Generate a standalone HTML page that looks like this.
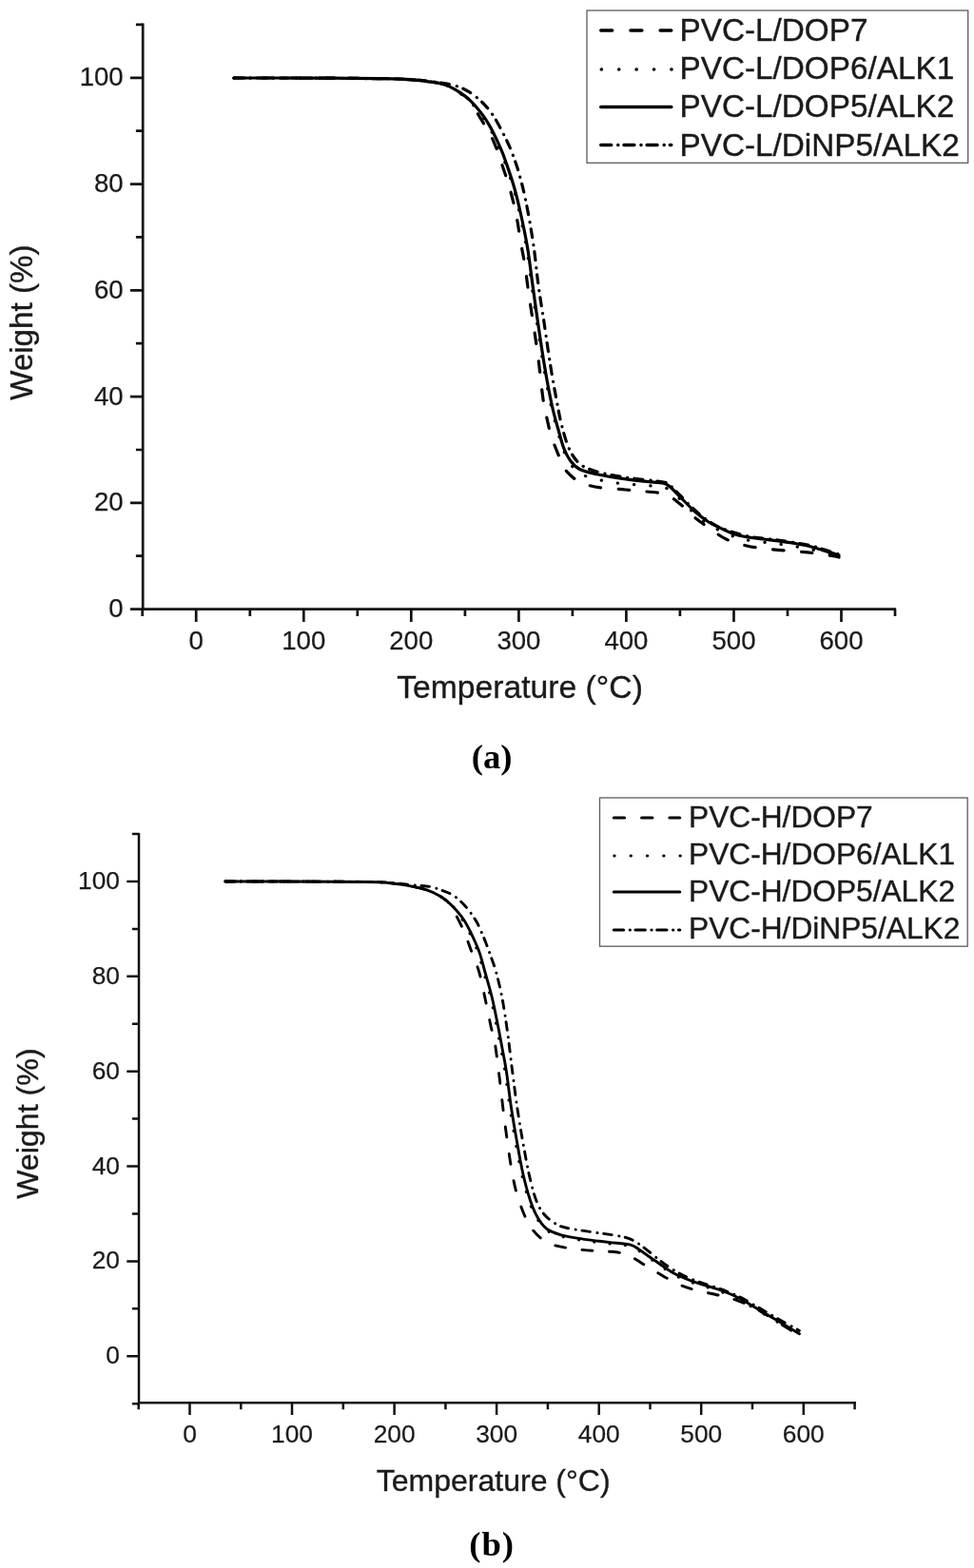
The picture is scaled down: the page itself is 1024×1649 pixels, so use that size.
<!DOCTYPE html>
<html lang="en"><head><meta charset="utf-8"><title>TGA curves</title>
<style>
html,body{margin:0;padding:0;background:#fff}
body{width:1024px;height:1649px;overflow:hidden}
svg{display:block;font-family:"Liberation Sans",Arial,sans-serif}
.cap{font-family:"Liberation Serif","DejaVu Serif",serif;font-weight:bold}
</style></head><body>
<svg width="1024" height="1649" viewBox="0 0 1024 1649">
<rect width="1024" height="1649" fill="#fff"/>
<!-- chart a -->
<g stroke="#111" stroke-width="2.7" fill="none" stroke-linecap="butt">
<path d="M150.2 24.6 V640.6 H942.0"/>
<path d="M150.2 640.6h-13.3M150.2 584.7h-7.3M150.2 528.8h-13.3M150.2 473.0h-7.3M150.2 417.1h-13.3M150.2 361.2h-7.3M150.2 305.3h-13.3M150.2 249.4h-7.3M150.2 193.6h-13.3M150.2 137.7h-7.3M150.2 81.8h-13.3M150.2 25.9h-7.3M149.7 640.6v7.3M206.2 640.6v13.3M262.8 640.6v7.3M319.3 640.6v13.3M375.8 640.6v7.3M432.3 640.6v13.3M488.9 640.6v7.3M545.4 640.6v13.3M601.9 640.6v7.3M658.4 640.6v13.3M714.9 640.6v7.3M771.5 640.6v13.3M828.0 640.6v7.3M884.5 640.6v13.3M941.0 640.6v7.3"/>
</g>
<g font-size="27.6" fill="#1a1a1a" stroke="#1a1a1a" stroke-width="0.25">
<text x="129.7" y="649.0" text-anchor="end">0</text>
<text x="129.7" y="537.2" text-anchor="end">20</text>
<text x="129.7" y="425.5" text-anchor="end">40</text>
<text x="129.7" y="313.7" text-anchor="end">60</text>
<text x="129.7" y="201.9" text-anchor="end">80</text>
<text x="129.7" y="90.2" text-anchor="end">100</text>
<text x="206.2" y="683.0" text-anchor="middle">0</text>
<text x="319.3" y="683.0" text-anchor="middle">100</text>
<text x="432.3" y="683.0" text-anchor="middle">200</text>
<text x="545.4" y="683.0" text-anchor="middle">300</text>
<text x="658.4" y="683.0" text-anchor="middle">400</text>
<text x="771.5" y="683.0" text-anchor="middle">500</text>
<text x="884.5" y="683.0" text-anchor="middle">600</text>
</g>
<g stroke="#000" stroke-width="3.2" fill="none" stroke-linejoin="round" stroke-linecap="round">
<path d="M246.0 82.0C255.0 82.0 282.7 82.0 300.0 82.0C317.3 82.0 333.3 82.1 350.0 82.2C366.7 82.3 388.3 82.6 400.0 82.7C411.7 82.8 413.7 82.8 420.0 83.1C426.3 83.4 431.7 83.8 437.6 84.3C443.5 84.8 450.3 85.7 455.2 86.4C460.1 87.1 463.4 87.6 466.9 88.8C470.4 89.9 473.0 91.5 476.0 93.2C479.0 94.9 482.0 96.9 485.0 99.2C488.0 101.5 491.1 103.8 494.2 106.8C497.3 109.8 500.5 113.7 503.4 117.4C506.3 121.1 509.1 124.9 511.6 129.0C514.1 133.1 516.3 137.3 518.6 142.0C520.9 146.7 523.5 152.7 525.4 157.0C527.3 161.3 527.5 161.7 529.8 168.0C532.1 174.3 536.2 185.5 539.0 195.0C541.8 204.5 544.1 214.2 546.5 225.0C548.9 235.8 551.4 247.5 553.5 260.0C555.6 272.5 557.1 286.2 559.0 300.0C560.9 313.8 562.9 328.3 565.0 342.5C567.1 356.7 569.2 371.2 571.5 385.0C573.8 398.8 576.6 413.8 579.0 425.0C581.4 436.2 583.8 444.2 586.0 452.0C588.2 459.8 589.8 466.2 592.0 472.0C594.2 477.8 596.2 482.8 599.0 487.0C601.8 491.2 605.5 494.5 609.0 497.0C612.5 499.5 614.0 500.2 620.0 502.0C626.0 503.8 636.7 506.2 645.0 507.5C653.3 508.8 661.7 509.2 670.0 510.0C678.3 510.8 689.2 511.0 695.0 512.0C700.8 513.0 701.7 513.8 705.0 516.0C708.3 518.2 710.8 521.0 715.0 525.0C719.2 529.0 725.0 535.5 730.0 540.0C735.0 544.5 740.8 549.2 745.0 552.0C749.2 554.8 750.7 555.0 755.0 557.0C759.3 559.0 765.2 562.0 771.0 564.0C776.8 566.0 782.2 567.4 790.0 568.8C797.8 570.1 808.2 570.6 818.0 572.0C827.8 573.4 838.3 574.8 849.0 577.0C859.7 579.2 876.5 583.7 882.0 585.0" stroke-dasharray="0.3 17.0"/>
<path d="M246.0 82.0C255.0 82.0 282.7 82.0 300.0 82.0C317.3 82.0 333.3 82.1 350.0 82.2C366.7 82.3 388.3 82.6 400.0 82.7C411.7 82.8 413.7 82.8 420.0 83.1C426.3 83.4 431.7 83.8 437.6 84.3C443.5 84.8 450.3 85.7 455.2 86.4C460.1 87.1 463.4 87.7 466.9 88.8C470.4 89.8 473.1 91.2 476.2 92.9C479.4 94.6 482.5 96.4 485.6 98.7C488.7 101.0 492.3 103.2 495.0 106.6C497.7 110.0 499.3 114.5 502.0 119.2C504.7 123.9 508.8 130.2 511.4 134.5C513.9 138.8 515.3 140.9 517.3 145.0C519.2 149.1 521.6 155.2 523.1 159.0C524.6 162.8 524.0 162.0 526.0 168.0C528.0 174.0 532.2 185.5 535.0 195.0C537.8 204.5 540.4 215.0 542.5 225.0C544.6 235.0 545.9 245.8 547.5 255.0C549.1 264.2 550.6 270.8 552.0 280.0C553.4 289.2 554.5 299.6 556.0 310.0C557.5 320.4 559.3 331.2 561.0 342.5C562.7 353.8 564.3 364.6 566.0 377.5C567.7 390.4 569.5 409.6 571.0 420.0C572.5 430.4 573.5 433.3 575.0 440.0C576.5 446.7 577.5 452.5 580.0 460.0C582.5 467.5 587.3 479.0 590.0 485.0C592.7 491.0 593.1 492.5 596.0 496.0C598.9 499.5 603.9 503.7 607.5 506.0C611.1 508.3 613.3 508.8 617.5 510.0C621.7 511.2 625.8 512.2 632.5 513.0C639.2 513.8 649.6 514.3 657.5 515.0C665.4 515.7 672.9 516.2 680.0 517.0C687.1 517.8 694.2 517.8 700.0 520.0C705.8 522.2 710.0 526.0 715.0 530.0C720.0 534.0 725.0 539.6 730.0 543.8C735.0 547.9 739.4 551.1 745.0 555.0C750.6 558.9 756.7 563.8 763.4 567.0C770.1 570.2 777.4 572.2 785.0 574.0C792.6 575.8 800.8 576.5 809.0 577.5C817.2 578.5 826.2 579.0 834.0 579.7C841.8 580.4 848.4 580.8 855.6 581.7C862.9 582.6 873.1 584.3 877.5 585.0C881.9 585.7 881.2 585.8 882.0 586.0" stroke-dasharray="11.5 18.5"/>
<path d="M246.0 82.0C263.3 82.0 324.3 82.1 350.0 82.2C375.7 82.3 388.3 82.6 400.0 82.7C411.7 82.8 413.3 82.8 420.0 83.0C426.7 83.2 434.2 83.7 440.0 84.2C445.8 84.7 450.5 85.2 455.0 85.8C459.5 86.4 462.6 86.8 466.9 87.6C471.2 88.4 476.6 89.4 480.9 90.9C485.2 92.4 488.8 94.0 492.7 96.4C496.6 98.8 500.9 102.1 504.4 105.2C507.9 108.3 510.9 111.6 513.8 115.1C516.6 118.6 519.1 122.4 521.4 126.2C523.7 130.1 525.9 134.5 527.8 138.0C529.6 141.5 530.9 144.0 532.5 147.3C534.1 150.6 535.1 152.5 537.2 157.9C539.3 163.3 542.5 171.3 545.0 180.0C547.5 188.7 549.9 197.5 552.5 210.0C555.1 222.5 558.2 240.0 560.5 255.0C562.8 270.0 564.0 285.4 566.0 300.0C568.0 314.6 570.4 328.3 572.5 342.5C574.6 356.7 576.7 372.1 578.8 385.0C580.8 397.9 583.1 410.0 585.0 420.0C586.9 430.0 587.9 436.7 590.0 445.0C592.1 453.3 594.6 463.2 597.5 470.0C600.4 476.8 603.8 482.1 607.5 486.0C611.2 489.9 614.6 491.3 620.0 493.5C625.4 495.7 632.5 497.4 640.0 499.0C647.5 500.6 655.4 501.7 665.0 503.0C674.6 504.3 690.8 505.7 697.5 507.0C704.2 508.3 702.1 508.7 705.0 511.0C707.9 513.3 710.8 516.8 715.0 521.0C719.2 525.2 725.0 531.5 730.0 536.0C735.0 540.5 740.0 544.7 745.0 548.0C750.0 551.3 753.0 553.3 760.0 556.0C767.0 558.7 777.3 562.0 787.0 564.0C796.7 566.0 807.7 566.5 818.0 568.0C828.3 569.5 841.2 571.4 849.0 573.0C856.8 574.6 859.5 575.8 865.0 577.5C870.5 579.2 879.2 582.1 882.0 583.0" stroke-dasharray="9.0 8.0 0.2 7.0"/>
<path d="M246.0 82.0C255.0 82.0 282.7 82.0 300.0 82.0C317.3 82.0 333.3 82.1 350.0 82.2C366.7 82.3 388.3 82.6 400.0 82.7C411.7 82.8 413.7 82.8 420.0 83.1C426.3 83.4 431.7 83.8 437.6 84.3C443.5 84.8 450.3 85.7 455.2 86.4C460.1 87.1 463.4 87.7 466.9 88.8C470.4 89.8 473.1 91.2 476.2 92.9C479.4 94.6 482.5 96.5 485.6 98.7C488.7 100.9 491.9 103.3 495.0 106.3C498.1 109.3 501.5 113.2 504.4 116.9C507.3 120.6 510.1 124.5 512.6 128.6C515.1 132.7 517.3 136.8 519.6 141.5C521.9 146.2 524.7 152.3 526.6 156.7C528.5 161.1 528.8 161.6 531.0 168.0C533.2 174.4 537.2 185.5 540.0 195.0C542.8 204.5 545.1 214.2 547.5 225.0C549.9 235.8 552.4 247.5 554.5 260.0C556.6 272.5 558.1 286.2 560.0 300.0C561.9 313.8 563.9 328.3 566.0 342.5C568.1 356.7 570.2 371.2 572.5 385.0C574.8 398.8 577.6 413.8 580.0 425.0C582.4 436.2 584.8 444.2 587.0 452.0C589.2 459.8 590.8 466.5 593.0 472.0C595.2 477.5 597.2 481.4 600.0 485.0C602.8 488.6 605.4 491.5 610.0 493.8C614.6 496.0 620.4 497.2 627.5 498.8C634.6 500.3 644.2 502.0 652.5 503.2C660.8 504.5 670.0 505.4 677.5 506.2C685.0 507.1 692.9 507.2 697.5 508.2C702.1 509.3 702.1 510.1 705.0 512.5C707.9 514.9 710.8 518.3 715.0 522.5C719.2 526.7 725.0 533.1 730.0 537.5C735.0 541.9 740.7 546.2 745.0 549.0C749.3 551.8 751.3 552.3 755.6 554.4C759.9 556.5 765.8 559.6 771.0 561.4C776.2 563.2 781.8 564.1 787.0 565.0C792.2 565.9 797.3 566.4 802.5 567.0C807.7 567.6 812.8 568.0 818.0 568.8C823.2 569.5 828.8 570.4 834.0 571.2C839.2 572.1 843.8 572.8 849.0 574.0C854.2 575.2 860.2 577.2 865.0 578.6C869.8 580.0 874.7 581.6 877.5 582.5C880.3 583.4 881.2 583.8 882.0 584.0"/>
</g>
<rect x="617.0" y="11.0" width="400.7" height="160.3" fill="#fff" stroke="#5c5c5c" stroke-width="1.3"/>
<g stroke="#000" stroke-width="3.4" fill="none" stroke-linecap="round">
<path d="M631.7 32.0H705.8" stroke-dasharray="12.0 19.2"/>
<path d="M632.2 73.0H707.5" stroke-dasharray="0.3 18.1"/>
<path d="M631.7 112.5H705.8"/>
<path d="M631.7 152.5H705.8" stroke-dasharray="11.0 7.0 0.2 6.0"/>
</g>
<g font-size="33.3" fill="#1a1a1a" stroke="#1a1a1a" stroke-width="0.4">
<text x="714.5" y="42.5">PVC-L/DOP7</text>
<text x="714.5" y="82.5">PVC-L/DOP6/ALK1</text>
<text x="714.5" y="123.0">PVC-L/DOP5/ALK2</text>
<text x="714.5" y="163.5">PVC-L/DiNP5/ALK2</text>
</g>
<text transform="translate(33.5 421) rotate(-90)" font-size="33.2" fill="#1a1a1a" stroke="#1a1a1a" stroke-width="0.35">Weight (%)</text>
<text x="546.5" y="734" font-size="33.7" text-anchor="middle" fill="#1a1a1a" stroke="#1a1a1a" stroke-width="0.35">Temperature (°C)</text>
<text class="cap" x="517.1" y="807.9" font-size="36.7" text-anchor="middle" fill="#000">(a)</text>
<!-- chart b -->
<g stroke="#111" stroke-width="2.5" fill="none" stroke-linecap="butt">
<path d="M146.0 876.0 V1475.3 H900.0"/>
<path d="M146.0 1476.2h-7.0M146.0 1426.2h-12.7M146.0 1376.3h-7.0M146.0 1326.4h-12.7M146.0 1276.5h-7.0M146.0 1226.5h-12.7M146.0 1176.6h-7.0M146.0 1126.7h-12.7M146.0 1076.8h-7.0M146.0 1026.8h-12.7M146.0 976.9h-7.0M146.0 927.0h-12.7M146.0 877.1h-7.0M145.7 1475.3v7.0M199.5 1475.3v12.7M253.3 1475.3v7.0M307.0 1475.3v12.7M360.8 1475.3v7.0M414.6 1475.3v12.7M468.4 1475.3v7.0M522.1 1475.3v12.7M575.9 1475.3v7.0M629.7 1475.3v12.7M683.5 1475.3v7.0M737.2 1475.3v12.7M791.0 1475.3v7.0M844.8 1475.3v12.7M898.6 1475.3v7.0"/>
</g>
<g font-size="26.3" fill="#1a1a1a" stroke="#1a1a1a" stroke-width="0.25">
<text x="126.0" y="1434.2" text-anchor="end">0</text>
<text x="126.0" y="1334.3" text-anchor="end">20</text>
<text x="126.0" y="1234.5" text-anchor="end">40</text>
<text x="126.0" y="1134.6" text-anchor="end">60</text>
<text x="126.0" y="1034.8" text-anchor="end">80</text>
<text x="126.0" y="934.9" text-anchor="end">100</text>
<text x="199.5" y="1516.5" text-anchor="middle">0</text>
<text x="307.0" y="1516.5" text-anchor="middle">100</text>
<text x="414.6" y="1516.5" text-anchor="middle">200</text>
<text x="522.1" y="1516.5" text-anchor="middle">300</text>
<text x="629.7" y="1516.5" text-anchor="middle">400</text>
<text x="737.2" y="1516.5" text-anchor="middle">500</text>
<text x="844.8" y="1516.5" text-anchor="middle">600</text>
</g>
<g stroke="#000" stroke-width="2.9" fill="none" stroke-linejoin="round" stroke-linecap="round">
<path d="M237.0 927.0C247.5 927.0 281.2 927.0 300.0 927.0C318.8 927.0 336.7 927.1 350.0 927.2C363.3 927.3 371.7 927.4 380.0 927.5C388.3 927.6 393.7 927.5 400.0 927.9C406.3 928.2 411.7 928.8 417.6 929.6C423.5 930.4 429.9 931.5 435.2 932.6C440.5 933.7 444.9 934.6 449.2 936.1C453.5 937.6 457.4 939.5 460.9 941.4C464.4 943.3 467.2 945.2 470.3 947.8C473.4 950.4 477.0 953.9 479.7 957.2C482.4 960.5 484.1 963.8 486.4 967.7C488.7 971.6 491.2 976.3 493.4 980.6C495.5 984.9 497.6 989.6 499.3 993.5C501.0 997.4 501.9 999.3 503.4 1004.1C504.9 1008.9 506.4 1014.9 508.5 1022.5C510.6 1030.2 513.7 1040.4 516.0 1050.0C518.3 1059.6 520.4 1070.8 522.2 1080.0C524.1 1089.2 525.5 1097.1 527.0 1105.0C528.5 1112.9 529.5 1117.5 531.0 1127.5C532.5 1137.5 534.1 1152.5 536.0 1165.0C537.9 1177.5 540.2 1190.8 542.2 1202.5C544.3 1214.2 546.2 1225.0 548.5 1235.0C550.8 1245.0 553.5 1255.0 556.0 1262.5C558.5 1270.0 560.3 1274.8 563.5 1280.0C566.7 1285.2 570.6 1290.6 575.0 1294.0C579.4 1297.4 583.7 1298.5 590.0 1300.3C596.3 1302.1 604.7 1303.3 613.0 1304.6C621.3 1305.9 631.3 1306.9 639.6 1307.9C647.9 1308.9 657.3 1309.2 662.8 1310.6C668.3 1312.0 668.4 1313.3 672.8 1316.2C677.2 1319.1 683.3 1323.7 689.4 1327.8C695.5 1331.9 702.7 1337.5 709.3 1341.1C715.9 1344.7 721.5 1346.6 729.2 1349.4C737.0 1352.2 748.0 1354.9 755.8 1357.7C763.5 1360.5 769.1 1362.7 775.7 1366.0C782.3 1369.3 789.0 1373.7 795.6 1377.6C802.2 1381.5 808.0 1384.9 815.5 1389.3C823.0 1393.7 836.2 1401.7 840.4 1404.2" stroke-dasharray="0.3 16.1"/>
<path d="M237.0 927.0C247.5 927.0 281.2 927.0 300.0 927.0C318.8 927.0 336.7 927.1 350.0 927.2C363.3 927.3 371.7 927.4 380.0 927.5C388.3 927.6 393.7 927.5 400.0 927.9C406.3 928.2 411.7 928.8 417.6 929.6C423.5 930.4 429.9 931.5 435.2 932.6C440.5 933.7 444.9 934.6 449.2 936.1C453.5 937.6 457.4 939.4 460.9 941.4C464.4 943.4 468.1 946.0 470.3 948.0C472.5 950.0 472.4 951.0 474.0 953.5C475.6 956.0 477.6 959.1 479.7 963.0C481.8 966.9 484.8 972.8 486.7 977.1C488.6 981.4 489.8 984.7 491.4 988.8C493.0 992.9 494.0 996.1 496.1 1001.7C498.2 1007.3 501.4 1014.5 503.8 1022.5C506.1 1030.5 507.9 1040.4 510.0 1050.0C512.1 1059.6 514.6 1072.5 516.2 1080.0C517.9 1087.5 518.5 1086.2 520.0 1095.0C521.5 1103.8 523.3 1119.2 525.0 1132.5C526.7 1145.8 528.1 1160.4 530.0 1175.0C531.9 1189.6 534.2 1207.1 536.2 1220.0C538.3 1232.9 540.0 1242.9 542.5 1252.5C545.0 1262.1 548.4 1270.7 551.2 1277.5C554.1 1284.3 556.8 1288.8 559.9 1293.1C563.0 1297.4 565.9 1300.3 569.8 1303.1C573.7 1305.9 577.0 1307.9 583.1 1309.7C589.2 1311.5 598.6 1312.7 606.4 1313.7C614.1 1314.7 622.4 1315.2 629.6 1315.7C636.8 1316.2 644.0 1316.1 649.5 1317.0C655.0 1317.9 657.8 1318.9 662.8 1321.3C667.8 1323.7 673.9 1328.0 679.4 1331.3C684.9 1334.6 690.5 1338.1 696.0 1341.3C701.5 1344.5 707.1 1347.7 712.6 1350.2C718.1 1352.7 722.0 1354.2 729.2 1356.2C736.4 1358.2 748.0 1360.3 755.8 1362.2C763.5 1364.1 769.1 1365.4 775.7 1367.8C782.3 1370.2 789.0 1373.3 795.6 1376.8C802.2 1380.3 808.0 1384.4 815.5 1389.0C823.0 1393.6 836.2 1401.8 840.4 1404.3" stroke-dasharray="10.9 17.6"/>
<path d="M237.0 927.0C255.8 927.0 322.8 927.1 350.0 927.2C377.2 927.3 388.7 927.4 400.0 927.7C411.3 928.0 411.7 928.5 417.6 929.0C423.5 929.5 429.4 930.2 435.2 930.8C441.0 931.4 447.6 931.6 452.7 932.6C457.8 933.6 461.7 935.2 465.6 936.7C469.5 938.2 472.7 939.1 476.2 941.4C479.7 943.6 483.6 947.1 486.7 950.2C489.8 953.3 492.3 956.6 494.9 960.1C497.4 963.6 499.9 967.2 502.0 971.2C504.1 975.2 506.1 980.0 507.8 984.1C509.6 988.2 511.2 992.6 512.5 995.9C513.8 999.2 513.9 999.8 515.4 1004.1C516.9 1008.5 519.4 1014.4 521.5 1022.0C523.6 1029.7 526.0 1039.5 528.0 1050.0C530.0 1060.5 531.7 1072.1 533.5 1085.0C535.3 1097.9 537.0 1114.2 538.8 1127.5C540.5 1140.8 541.9 1152.5 543.8 1165.0C545.6 1177.5 547.9 1190.8 550.0 1202.5C552.1 1214.2 554.0 1225.0 556.2 1235.0C558.5 1245.0 561.0 1255.4 563.8 1262.5C566.5 1269.6 569.0 1273.3 572.5 1277.5C576.0 1281.7 581.0 1285.2 585.0 1287.5C589.0 1289.8 590.1 1290.1 596.4 1291.5C602.7 1292.9 614.7 1294.5 623.0 1295.8C631.3 1297.1 639.6 1297.9 646.2 1299.1C652.8 1300.3 657.8 1301.0 662.8 1303.1C667.8 1305.1 671.1 1307.8 676.1 1311.4C681.1 1315.0 687.2 1320.6 692.7 1324.7C698.2 1328.8 703.2 1332.8 709.3 1336.3C715.4 1339.8 721.5 1342.9 729.2 1346.0C737.0 1349.1 748.0 1352.2 755.8 1355.0C763.5 1357.8 769.1 1359.8 775.7 1363.0C782.3 1366.2 789.0 1370.2 795.6 1374.0C802.2 1377.8 808.0 1381.3 815.5 1385.5C823.0 1389.7 836.2 1397.1 840.4 1399.4" stroke-dasharray="8.5 7.6 0.2 6.6"/>
<path d="M237.0 927.0C247.5 927.0 281.2 927.0 300.0 927.0C318.8 927.0 336.7 927.1 350.0 927.2C363.3 927.3 371.7 927.4 380.0 927.5C388.3 927.6 393.7 927.5 400.0 927.9C406.3 928.2 411.7 928.8 417.6 929.6C423.5 930.4 429.9 931.5 435.2 932.6C440.5 933.7 444.9 934.6 449.2 936.1C453.5 937.6 457.4 939.5 460.9 941.4C464.4 943.3 467.2 945.2 470.3 947.8C473.4 950.4 476.8 953.9 479.7 957.2C482.6 960.5 485.4 963.8 487.9 967.7C490.4 971.6 492.8 976.3 494.9 980.6C497.0 984.9 499.1 989.6 500.8 993.5C502.5 997.4 503.4 999.3 504.9 1004.1C506.4 1008.9 507.9 1014.9 510.0 1022.5C512.1 1030.2 515.2 1040.4 517.5 1050.0C519.8 1059.6 521.9 1070.8 523.8 1080.0C525.6 1089.2 527.0 1097.1 528.5 1105.0C530.0 1112.9 531.0 1117.5 532.5 1127.5C534.0 1137.5 535.6 1152.5 537.5 1165.0C539.4 1177.5 541.7 1190.8 543.8 1202.5C545.8 1214.2 547.7 1225.0 550.0 1235.0C552.3 1245.0 555.0 1255.0 557.5 1262.5C560.0 1270.0 562.1 1275.0 565.0 1280.0C567.9 1285.0 570.8 1289.4 575.0 1292.5C579.2 1295.6 583.7 1297.0 590.0 1298.8C596.3 1300.6 604.7 1301.8 613.0 1303.1C621.3 1304.4 631.3 1305.4 639.6 1306.4C647.9 1307.4 657.3 1307.7 662.8 1309.1C668.3 1310.5 668.4 1311.8 672.8 1314.7C677.2 1317.6 683.3 1322.2 689.4 1326.3C695.5 1330.4 702.7 1336.0 709.3 1339.6C715.9 1343.2 721.5 1345.1 729.2 1347.9C737.0 1350.7 748.0 1353.4 755.8 1356.2C763.5 1359.0 769.1 1361.2 775.7 1364.5C782.3 1367.8 789.0 1372.2 795.6 1376.1C802.2 1380.0 808.0 1383.4 815.5 1387.8C823.0 1392.2 836.2 1400.2 840.4 1402.7"/>
</g>
<rect x="630.5" y="839.0" width="386.7" height="156.2" fill="#fff" stroke="#5c5c5c" stroke-width="1.3"/>
<g stroke="#000" stroke-width="3.1" fill="none" stroke-linecap="round">
<path d="M645.3 860.0H714.7" stroke-dasharray="11.3 18.0"/>
<path d="M645.8 900.0H716.2" stroke-dasharray="0.3 17.0"/>
<path d="M645.3 938.0H714.7"/>
<path d="M645.3 978.0H714.7" stroke-dasharray="10.3 6.6 0.2 5.6"/>
</g>
<g font-size="31.7" fill="#1a1a1a" stroke="#1a1a1a" stroke-width="0.4">
<text x="724.0" y="869.5">PVC-H/DOP7</text>
<text x="724.0" y="908.8">PVC-H/DOP6/ALK1</text>
<text x="724.0" y="948.2">PVC-H/DOP5/ALK2</text>
<text x="724.0" y="987.0">PVC-H/DiNP5/ALK2</text>
</g>
<text transform="translate(39.7 1261) rotate(-90)" font-size="32.2" fill="#1a1a1a" stroke="#1a1a1a" stroke-width="0.35">Weight (%)</text>
<text x="518.7" y="1567.5" font-size="32" text-anchor="middle" fill="#1a1a1a" stroke="#1a1a1a" stroke-width="0.35">Temperature (°C)</text>
<text class="cap" x="517.1" y="1636.3" font-size="36.7" letter-spacing="0.9" text-anchor="middle" fill="#000">(b)</text>
</svg></body></html>
